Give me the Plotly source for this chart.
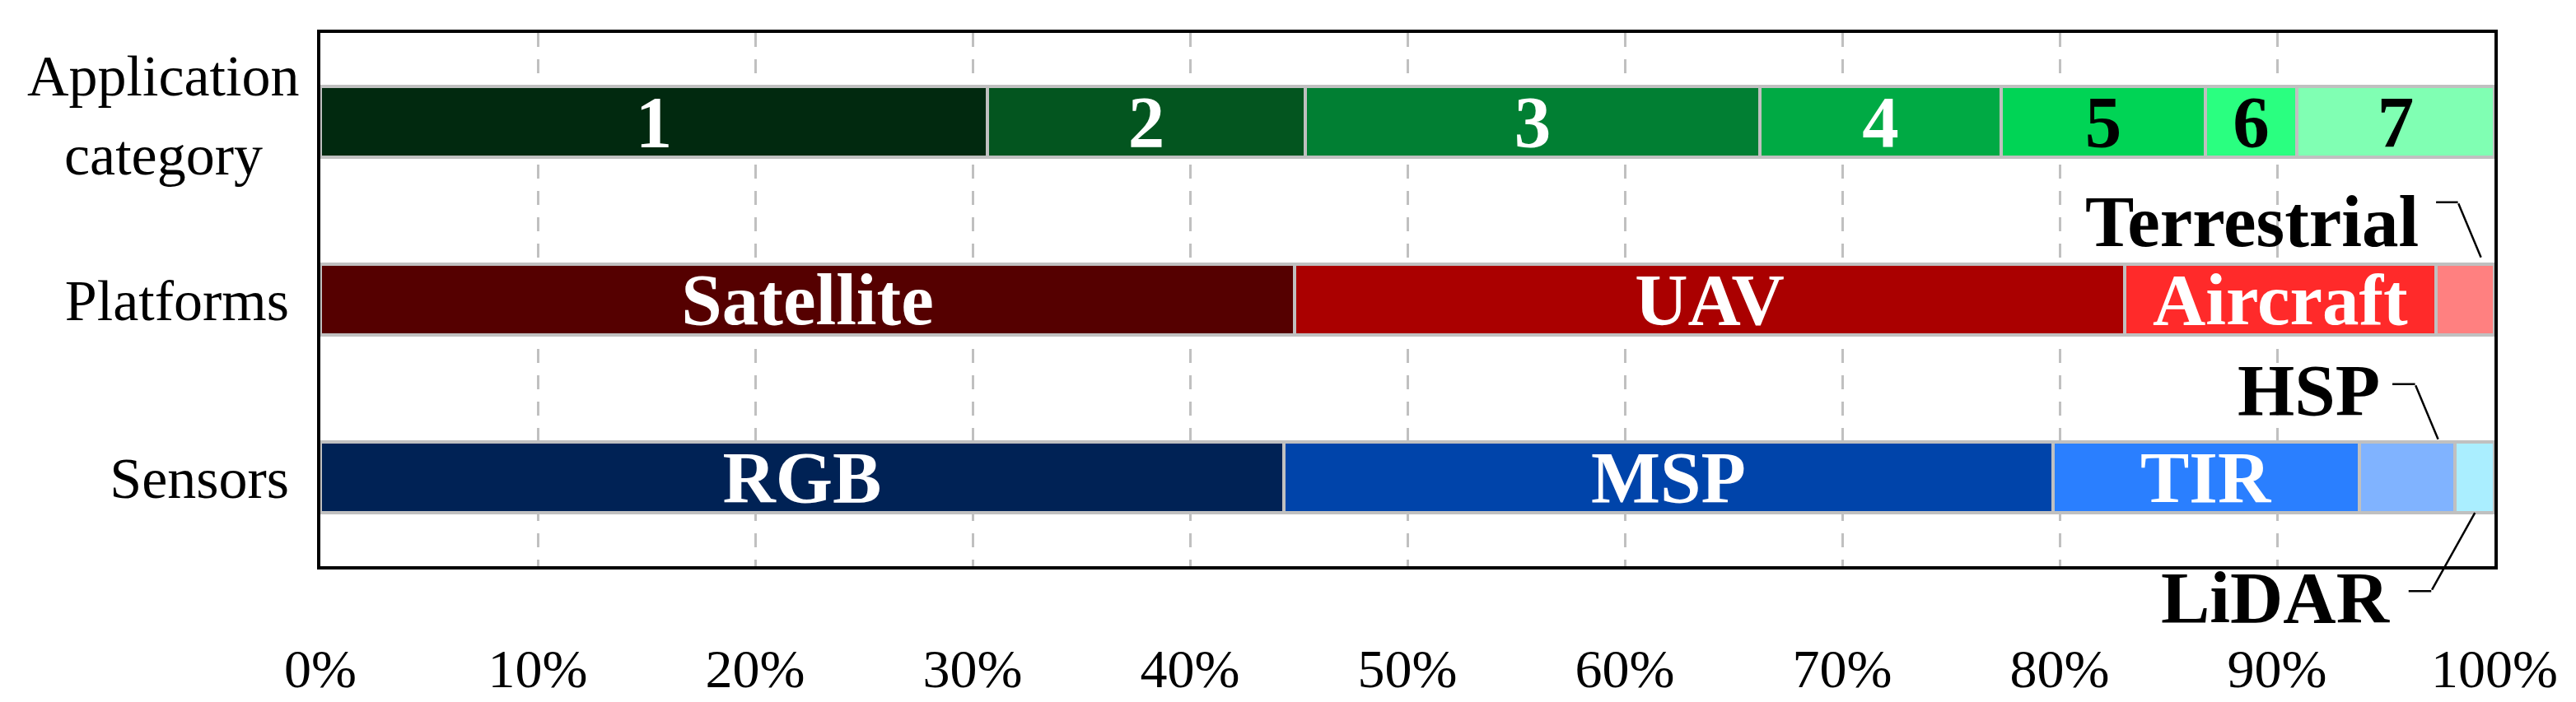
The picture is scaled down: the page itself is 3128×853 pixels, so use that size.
import plotly.graph_objects as go

# ---- data ----
categories = ["Application category", "Platforms", "Sensors"]

app_labels = ["1", "2", "3", "4", "5", "6", "7"]
app_values = [30.7, 14.6, 20.9, 11.1, 9.4, 4.2, 9.1]
app_colors = ["#01290f", "#03551f", "#017f33", "#00aa44", "#00d455", "#2aff80", "#80ffb3"]
app_text_colors = ["white", "white", "white", "white", "black", "black", "black"]

platform_labels = ["Satellite", "UAV", "Aircraft", "Terrestrial"]
platform_values = [44.8, 38.2, 14.3, 2.7]
platform_colors = ["#550000", "#aa0000", "#ff2a2a", "#ff8080"]
platform_shown = [True, True, True, False]

sensor_labels = ["RGB", "MSP", "TIR", "HSP", "LiDAR"]
sensor_values = [44.3, 35.4, 14.1, 4.4, 1.8]
sensor_colors = ["#002255", "#0044aa", "#2a7fff", "#80b3ff", "#aaeeff"]
sensor_shown = [True, True, True, False, False]

x_ticks = [0, 10, 20, 30, 40, 50, 60, 70, 80, 90, 100]
x_tick_labels = [f"{t}%" for t in x_ticks]

FONT = "Liberation Serif"
BAR_W = 0.4
LABEL_SIZE = 89
YLAB_SIZE = 70
TICK_SIZE = 66

fig = go.Figure()

def add_row(cat, labels, values, colors, text_colors, shown):
    for lab, val, col, tc, sh in zip(labels, values, colors, text_colors, shown):
        fig.add_trace(go.Bar(
            x=[val], y=[cat], orientation="h", width=BAR_W,
            marker=dict(color=col, line=dict(color="#c0c0c0", width=4)),
            text=[lab if sh else ""], textposition="inside",
            insidetextanchor="middle", textangle=0, constraintext="none",
            textfont=dict(family=FONT, size=LABEL_SIZE, color=tc, weight="bold"),
            showlegend=False, hoverinfo="skip",
        ))

add_row(categories[0], app_labels, app_values, app_colors, app_text_colors, [True] * 7)
add_row(categories[1], platform_labels, platform_values, platform_colors, ["white"] * 4, platform_shown)
add_row(categories[2], sensor_labels, sensor_values, sensor_colors, ["white"] * 5, sensor_shown)

# ---- call-out labels for small segments ----
def cum_start(values, i):
    return sum(values[:i])

callouts = [
    # (label, x point, y point, head yshift, elbow dx, elbow dy, horiz len, text xshift, text yshift)
    ("Terrestrial", cum_start(platform_values, 3) + 0.77 * platform_values[3], 1 - BAR_W / 2, 8, -28, -67, -28, -74, 52),
    ("HSP", cum_start(sensor_values, 3) + 0.82 * sensor_values[3], 2 - BAR_W / 2, 3, -28, -67, -29, -69, 63),
    ("LiDAR", cum_start(sensor_values, 4) + 0.5 * sensor_values[4], 2 + BAR_W / 2, 0, -53, 95, -29, -100, -103),
]
annotations = []
for lab, xp, yp, ys, edx, edy, hl, txs, tys in callouts:
    # diagonal from elbow to bar
    annotations.append(dict(x=xp, y=yp, xref="x", yref="y", text="", showarrow=True,
                            arrowhead=0, arrowwidth=2.5, arrowcolor="black",
                            ax=edx, ay=edy, yshift=ys))
    # horizontal short segment
    annotations.append(dict(x=xp, y=yp, xref="x", yref="y", text="", showarrow=True,
                            arrowhead=0, arrowwidth=2.5, arrowcolor="black",
                            ax=hl, ay=0, xshift=edx, yshift=ys - edy))
    # text
    annotations.append(dict(x=xp, y=yp, xref="x", yref="y", text=lab, showarrow=False,
                            xanchor="right", yanchor="middle", xshift=txs, yshift=tys,
                            font=dict(family=FONT, size=LABEL_SIZE, color="black", weight="bold")))

# two-line centred label for the first category
annotations.append(dict(x=0, y=categories[0], xref="paper", yref="y", text="Application",
                        showarrow=False, xanchor="center", yanchor="middle", xshift=-191, yshift=56,
                        font=dict(family=FONT, size=YLAB_SIZE, color="black")))
annotations.append(dict(x=0, y=categories[0], xref="paper", yref="y", text="category",
                        showarrow=False, xanchor="center", yanchor="middle", xshift=-191, yshift=-40,
                        font=dict(family=FONT, size=YLAB_SIZE, color="black")))

fig.update_layout(
    width=3128, height=853,
    margin=dict(l=381, r=107, t=32, b=170),
    barmode="stack",
    bargap=0,
    plot_bgcolor="white", paper_bgcolor="white",
    font=dict(family=FONT, color="black"),
    annotations=annotations,
    showlegend=False,
)
fig.update_xaxes(
    range=[0, 100], tickmode="array", tickvals=x_ticks, ticktext=x_tick_labels,
    tickfont=dict(family=FONT, size=TICK_SIZE, color="black"), ticks="", ticklabelstandoff=64,
    showgrid=True, gridcolor="#c0c0c0", gridwidth=2.5, griddash="17px,15px",
    zeroline=False, showline=True, mirror=True, linecolor="black", linewidth=4,
)
fig.update_yaxes(
    type="category", categoryorder="array", categoryarray=categories,
    range=[2.5, -0.5], tickmode="array", tickvals=categories,
    ticktext=["", categories[1], categories[2]],
    tickfont=dict(family=FONT, size=YLAB_SIZE, color="black"), ticks="", ticklabelstandoff=20,
    showgrid=False, zeroline=False, showline=True, mirror=True, linecolor="black", linewidth=4,
)

fig.write_html("out.html")
